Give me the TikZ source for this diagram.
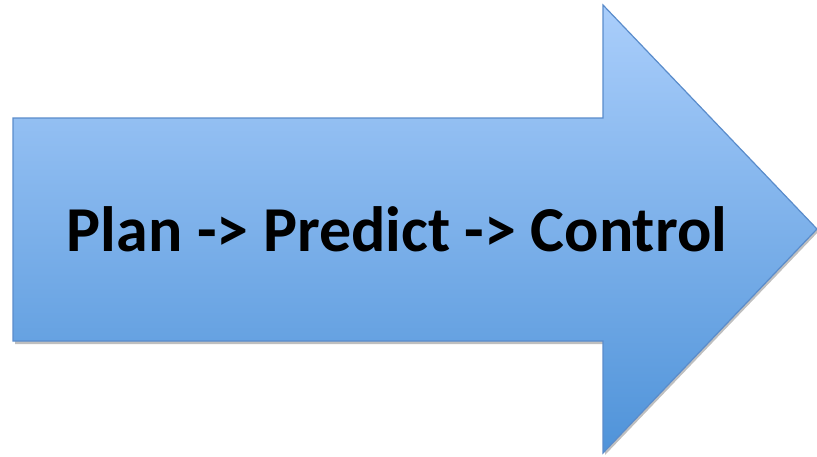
\documentclass[tikz,border=0pt]{standalone}
\usepackage{fontspec}
\setmainfont{Carlito}
\definecolor{arrowtop}{HTML}{AACEFB}
\definecolor{arrowbot}{HTML}{4F93D9}
\definecolor{arrowline}{HTML}{5A8CCB}

\begin{document}
\begin{tikzpicture}[x=1pt,y=-1pt]
	\useasboundingbox (0,0) rectangle (817,456);
	\fill[black!25] (15,121) -- (605,121) -- (605,8) -- (819,231) -- (605,455) -- (605,344) -- (15,344) -- cycle;
	\draw[arrowline, top color=arrowtop, bottom color=arrowbot, line width=1.2pt]
		(13,118) -- (603,118) -- (603,5) -- (817,229) -- (603,453) -- (603,341) -- (13,341) -- cycle;
	\node[font=\bfseries\fontsize{64}{72}\selectfont] (label) at (397,229) {Plan -> Predict -> Control};
\end{tikzpicture}
\end{document}
